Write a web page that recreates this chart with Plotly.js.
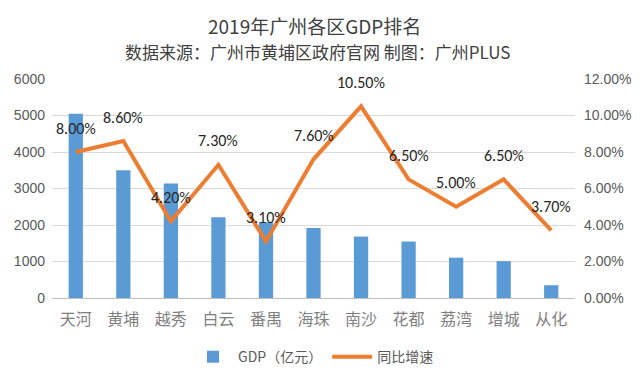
<!DOCTYPE html>
<html><head><meta charset="utf-8">
<script src="https://cdn.plot.ly/plotly-3.0.1.min.js"></script>
<style>body{margin:0;background:#fff}#c{width:641px;height:372px}</style>
</head><body><div id="c"></div>
<script>
const districts = ['天河','黄埔','越秀','白云','番禺','海珠','南沙','花都','荔湾','增城','从化'];
const gdp = [5047, 3502, 3135, 2212, 2075, 1918, 1683, 1547, 1104, 1010, 350];
const growth = [8.0, 8.6, 4.2, 7.3, 3.1, 7.6, 10.5, 6.5, 5.0, 6.5, 3.7];
const growthLabels = growth.map(v => v.toFixed(2) + '%');
const leftTicks = [0,1000,2000,3000,4000,5000,6000];
const rightTicks = [0,2,4,6,8,10,12];
const rightTickText = rightTicks.map(v => v.toFixed(2) + '%');

const cjk = '"Noto Sans CJK SC", "Noto Sans", sans-serif';
const traces = [
  {type:'bar', x:districts, y:gdp, name:'GDP（亿元）', marker:{color:'#5B9BD5'}, width:0.3, yaxis:'y'},
  {type:'scatter', mode:'lines', x:districts, y:growth, name:'同比增速', line:{color:'#ED7D31', width:4}, yaxis:'y2'}
];
const annotations = districts.map((d,i) => ({
  x:d, y:growth[i], xref:'x', yref:'y2', text:growthLabels[i], showarrow:false,
  yanchor:'middle', yshift:24, font:{family:'Calibri, Carlito, "Liberation Sans", sans-serif', size:16, color:'#262626'}
}));
annotations.push({xref:'paper', yref:'paper', x:0.501, y:1.246, xanchor:'center', yanchor:'middle', text:'2019年广州各区GDP排名', showarrow:false, font:{family:cjk, size:19, color:'#404040'}});
annotations.push({xref:'paper', yref:'paper', x:0.508, y:1.126, xanchor:'center', yanchor:'middle', text:'数据来源：广州市黄埔区政府官网 制图：广州PLUS', showarrow:false, font:{family:cjk, size:17, color:'#404040'}});

const layout = {
  width:641, height:372,
  margin:{l:52, r:66, t:79, b:74},
  paper_bgcolor:'#fff', plot_bgcolor:'#fff',
  showlegend:true,
  legend:{orientation:'h', x:0.5, xanchor:'center', yref:'container', y:0.04, yanchor:'middle', font:{family:cjk, size:14, color:'#595959'}, itemwidth:40},
  xaxis:{tickfont:{family:cjk, size:16, color:'#7f7f7f'}, showgrid:false, zeroline:false, showline:false, ticks:'', ticklabelstandoff:10},
  yaxis:{range:[0,6000], tickvals:leftTicks, tickfont:{family:'"Liberation Sans", sans-serif', size:14, color:'#595959'}, gridcolor:'#d9d9d9', gridwidth:1, zeroline:true, zerolinecolor:'#bfbfbf', showline:false, ticklabelstandoff:6},
  yaxis2:{range:[0,12], overlaying:'y', side:'right', tickvals:rightTicks, ticktext:rightTickText, tickfont:{family:'"Liberation Sans", sans-serif', size:14, color:'#595959'}, showgrid:false, zeroline:false, showline:false, ticklabelstandoff:8},
  annotations:annotations
};
Plotly.newPlot('c', traces, layout, {displayModeBar:false, staticPlot:true});
</script></body></html>
